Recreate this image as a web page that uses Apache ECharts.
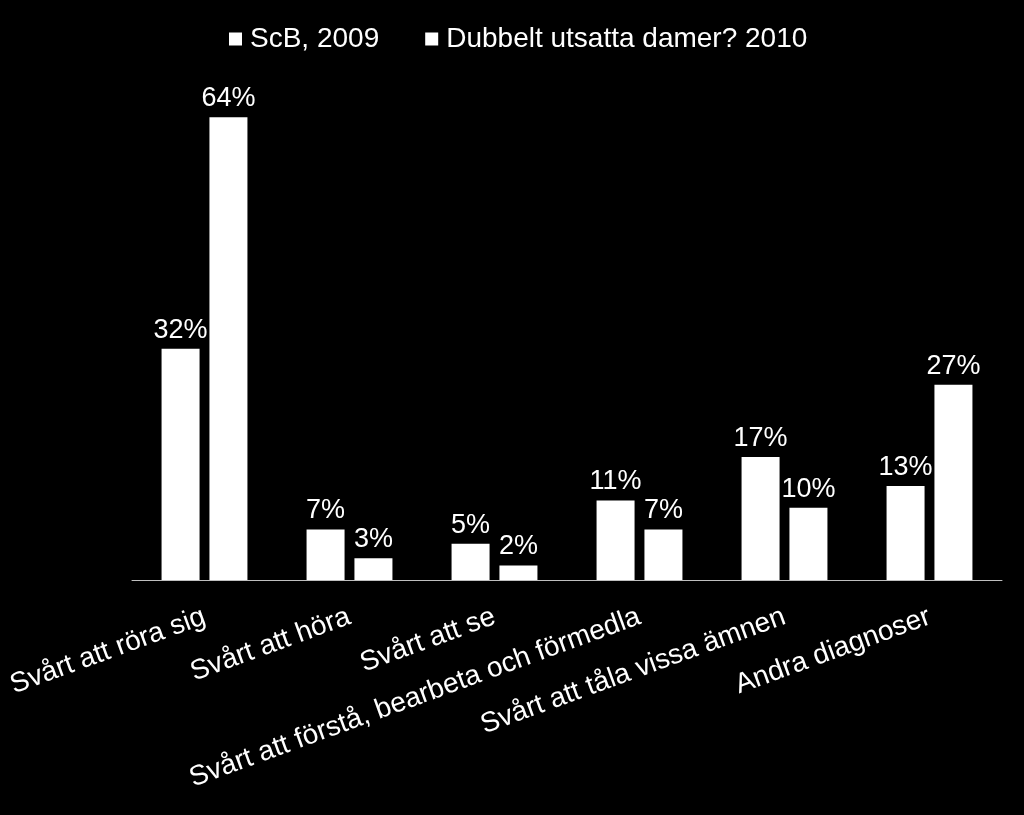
<!DOCTYPE html>
<html>
<head>
<meta charset="utf-8">
<script src="https://cdn.jsdelivr.net/npm/echarts@6/dist/echarts.min.js"></script>
<style>
html,body{margin:0;padding:0;background:#000;}
#chart{width:1024px;height:815px;}
</style>
</head>
<body>
<div id="chart"></div>
<script>
const categories = ['Svårt att röra sig', 'Svårt att höra', 'Svårt att se', 'Svårt att förstå, bearbeta och förmedla', 'Svårt att tåla vissa ämnen', 'Andra diagnoser'];
const seriesNames = ['ScB, 2009', 'Dubbelt utsatta damer? 2010'];
const scb2009 = [32, 7, 5, 11, 17, 13];
const dubbelt2010 = [64, 3, 2, 7, 10, 27];

const font = 'Liberation Sans, Arial, sans-serif';
const chart = echarts.init(document.getElementById('chart'));
const labelCfg = {
  show: true, position: 'top', distance: 5, color: '#fff',
  fontSize: 27, fontFamily: font, formatter: '{c}%'
};
chart.setOption({
  backgroundColor: '#000',
  animation: false,
  legend: {
    top: 20, left: 224,
    itemWidth: 13, itemHeight: 13, itemGap: 46,
    icon: 'rect',
    textStyle: { color: '#fff', fontSize: 28, fontFamily: font, padding: [0,0,0,3] },
    data: seriesNames
  },
  grid: { left: 132, right: 22, top: 74, bottom: 235, containLabel: false },
  xAxis: {
    type: 'category', data: categories,
    axisLine: { lineStyle: { color: '#bfbfbf', width: 1 } },
    axisTick: { show: false },
    axisLabel: { color: '#fff', fontSize: 28, fontFamily: font, rotate: 20, margin: 36, interval: 0 }
  },
  yAxis: { type: 'value', min: 0, max: 70, show: false, splitLine: { show: false } },
  series: [
    { name: seriesNames[0], type: 'bar', data: scb2009, barWidth: 38, barGap: '26%',
      itemStyle: { color: '#fff' }, label: labelCfg },
    { name: seriesNames[1], type: 'bar', data: dubbelt2010, barWidth: 38, barGap: '26%',
      itemStyle: { color: '#fff' }, label: labelCfg }
  ]
});
</script>
</body>
</html>
